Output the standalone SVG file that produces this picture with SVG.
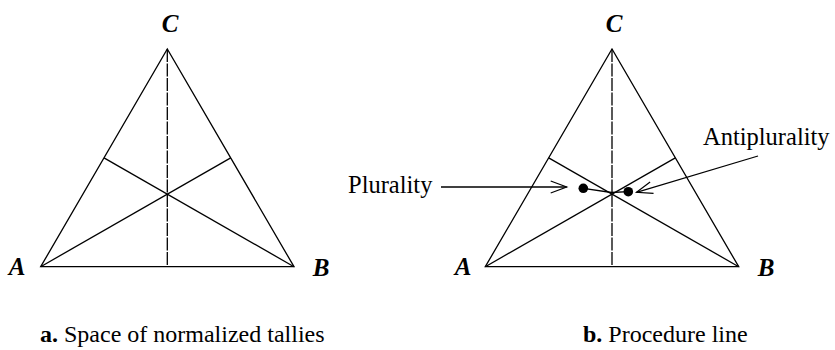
<svg xmlns="http://www.w3.org/2000/svg" width="835" height="350" viewBox="0 0 835 350">
<style>
.ln{fill:none;stroke:#000;stroke-width:1.3;stroke-linejoin:miter}
.dash{fill:none;stroke:#000;stroke-width:1.3;stroke-dasharray:13 1.5}
.v{font-family:"Liberation Serif",serif;font-weight:bold;font-style:italic;font-size:25px;text-anchor:middle}
.lbl{font-family:"Liberation Serif",serif;font-size:24.5px}
.cap{font-family:"Liberation Serif",serif;font-size:24px}
.b{font-weight:bold}
</style>
<defs>
<marker id="open" markerUnits="userSpaceOnUse" markerWidth="20" markerHeight="14" refX="0" refY="0" viewBox="-17 -7 18 14" orient="auto" overflow="visible">
<path d="M-16,-6 L0,0 L-16,6" fill="none" stroke="#000" stroke-width="1.2"/>
</marker>
</defs>
<g id="triangle-a">
<polygon class="ln" points="40.7,266.7 294,266.7 167.3,49"/>
<line class="dash" x1="167.3" y1="49" x2="167.3" y2="266.7"/>
<line class="ln" x1="40.7" y1="266.7" x2="230.7" y2="157.85"/>
<line class="ln" x1="294" y1="266.7" x2="104" y2="157.85"/>
</g>
<g id="labels-a">
<text class="v" x="170" y="32">C</text>
<text class="v" x="17" y="275">A</text>
<text class="v" x="321" y="276">B</text>
</g>
<g id="triangle-b">
<polygon class="ln" points="485.3,266.7 738.7,266.7 612,49"/>
<line class="dash" x1="612" y1="49" x2="612" y2="266.7"/>
<line class="ln" x1="485.3" y1="266.7" x2="675.3" y2="157.85"/>
<line class="ln" x1="738.7" y1="266.7" x2="548.7" y2="157.85"/>
</g>
<g id="labels-b">
<text class="v" x="614" y="32">C</text>
<text class="v" x="463" y="275">A</text>
<text class="v" x="766" y="276">B</text>
</g>
<g id="procedure-line">
<polyline class="ln" points="583.3,188.3 611.5,192.5 628.3,191.7"/>
<circle cx="583.3" cy="188.3" r="4.8" fill="#000"/>
<circle cx="628.3" cy="191.7" r="4.8" fill="#000"/>
</g>
<g id="connectors">
<line class="ln" x1="441" y1="187" x2="566.7" y2="187" marker-end="url(#open)"/>
<line class="ln" x1="758" y1="156" x2="636.5" y2="192.3" marker-end="url(#open)"/>
</g>
<g id="plurality-label"><text class="lbl" x="348" y="193">Plurality</text></g>
<g id="antiplurality-label"><text class="lbl" x="703" y="145">Antiplurality</text></g>
<g id="captions">
<text class="cap" x="40" y="342"><tspan class="b">a.</tspan> Space of normalized tallies</text>
<text class="cap" x="583" y="342"><tspan class="b">b.</tspan> Procedure line</text>
</g>
</svg>
